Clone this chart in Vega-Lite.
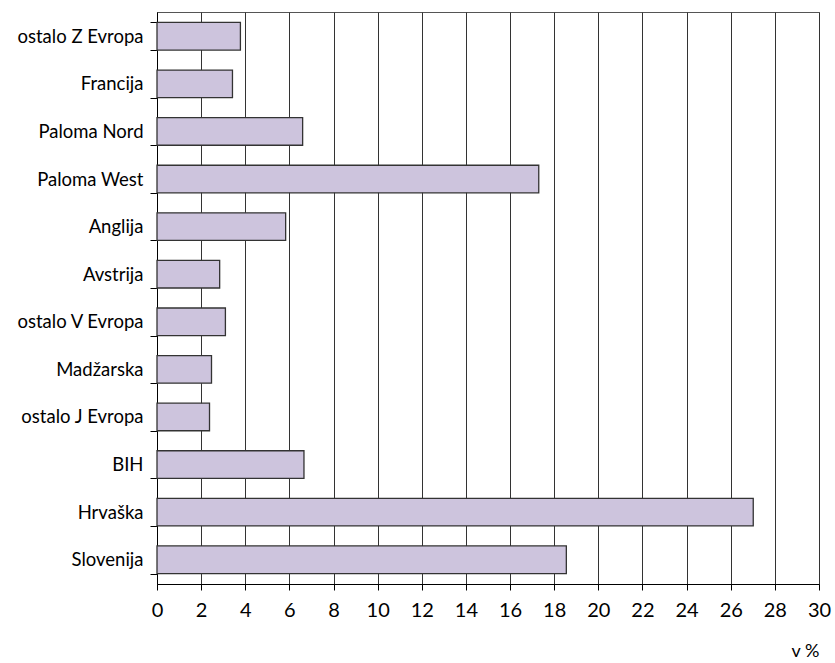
{
  "$schema": "https://vega.github.io/schema/vega-lite/v6.json",
  "autosize": "none",
  "padding": {"left": 157, "top": 12, "right": 16, "bottom": 79},
  "width": 662,
  "height": 572,
  "background": "white",
  "config": {
    "view": {"stroke": "#555555", "strokeWidth": 1},
    "font": "Lato"
  },
  "data": {
    "values": [
      {"drzava": "ostalo Z Evropa", "delez": 3.78},
      {"drzava": "Francija", "delez": 3.42},
      {"drzava": "Paloma Nord", "delez": 6.6},
      {"drzava": "Paloma West", "delez": 17.3},
      {"drzava": "Anglija", "delez": 5.83},
      {"drzava": "Avstrija", "delez": 2.84},
      {"drzava": "ostalo V Evropa", "delez": 3.1},
      {"drzava": "Madžarska", "delez": 2.47},
      {"drzava": "ostalo J Evropa", "delez": 2.38},
      {"drzava": "BIH", "delez": 6.66},
      {"drzava": "Hrvaška", "delez": 27.02},
      {"drzava": "Slovenija", "delez": 18.55}
    ]
  },
  "mark": {"type": "bar", "fill": "#cdc4dd", "stroke": "#333333", "strokeWidth": 1.3},
  "encoding": {
    "y": {
      "field": "drzava",
      "type": "nominal",
      "sort": null,
      "scale": {"paddingInner": 0.42, "paddingOuter": 0.22},
      "axis": {
        "title": null,
        "tickBand": "extent",
        "tickSize": 7,
        "tickColor": "#000000",
        "domainColor": "#000000",
        "labelFontSize": 18.5,
        "labelColor": "#000000",
        "labelPadding": 7,
        "labelFont": "Lato",
        "labelLimit": 200
      }
    },
    "x": {
      "field": "delez",
      "type": "quantitative",
      "scale": {"domain": [0, 30], "nice": false},
      "axis": {
        "values": [0, 2, 4, 6, 8, 10, 12, 14, 16, 18, 20, 22, 24, 26, 28, 30],
        "title": "v %",
        "titleAnchor": "end",
        "titleAlign": "right",
        "titleFontWeight": "normal",
        "titleFontSize": 18,
        "titleColor": "#000000",
        "titlePadding": 22,
        "titleFont": "Lato",
        "grid": true,
        "gridColor": "#333333",
        "gridWidth": 1,
        "tickSize": 6,
        "tickColor": "#000000",
        "domainColor": "#000000",
        "labelFontSize": 20,
        "labelColor": "#000000",
        "labelPadding": 10,
        "labelFont": "Lato",
        "labelFlush": false
      }
    }
  }
}
